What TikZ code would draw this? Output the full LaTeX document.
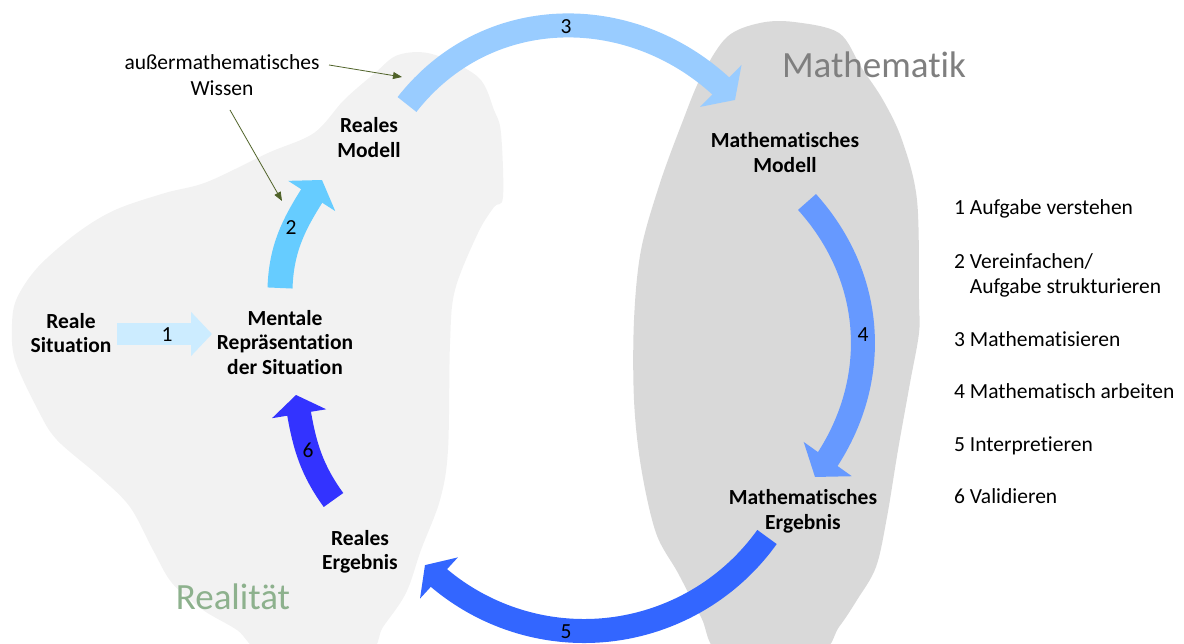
\documentclass[tikz,border=0pt]{standalone}
\usepackage{fontspec}
\setmainfont{Carlito}[Ligatures=NoCommon]
\usetikzlibrary{arrows.meta,bending}
\definecolor{rblob}{HTML}{F2F2F2}
\definecolor{mblob}{HTML}{D9D9D9}
\definecolor{cA}{HTML}{CCECFF}
\definecolor{cB}{HTML}{66CCFF}
\definecolor{cC}{HTML}{99CCFF}
\definecolor{cD}{HTML}{6699FF}
\definecolor{cE}{HTML}{3366FF}
\definecolor{cF}{HTML}{3333FF}
\definecolor{mtext}{HTML}{7F7F7F}
\definecolor{rtext}{HTML}{8DB18D}
\definecolor{anno}{HTML}{4F6228}
\tikzset{
  lbl/.style={font=\fontsize{21.5}{24.5}\selectfont\bfseries, align=center, inner sep=0pt},
  plain/.style={font=\fontsize{21.5}{24.5}\selectfont, inner sep=0pt},
  listitem/.style={font=\fontsize{21.5}{25}\selectfont, inner sep=0pt, anchor=base west, align=left},
  title/.style={font=\fontsize{37}{40}\selectfont, inner sep=0pt, anchor=base},
  num/.style={font=\fontsize{21.5}{24}\selectfont, inner sep=0pt},
  bigarrow/.style={line width=24pt, line cap=butt},
  annoarrow/.style={draw=anno, line width=0.8pt, -{Triangle[length=9pt,width=7pt]}}
}
\begin{document}
\begin{tikzpicture}[x=1pt,y=1pt]
\useasboundingbox (0,0) rectangle (1184,644);
\clip (0,0) rectangle (1184,644);

% Realitaet blob
\fill[rblob] plot[smooth cycle, tension=0.55] coordinates {
 (398,589) (432,590) (478,567) (494,534) (501,511) (503,447) (494,437) (478,411)
 (455,354) (450,300) (448,194) (440,144) (421,94) (406,51) (383,17) (364,-10)
 (268,-10) (237,14) (203,34) (172,61) (153,94) (130,137) (100,167) (57,204)
 (38,234) (15,284) (12,320) (17,346) (38,377) (77,411) (115,434) (165,451)
 (207,462) (268,491) (314,511) (344,544) (375,571)};

% Mathematik blob
\fill[mblob] plot[smooth cycle, tension=0.55] coordinates {
 (760,621) (794,622) (839,611) (861,577) (883,544) (902,504) (917,444) (919,344)
 (919,311) (910,261) (898,194) (887,127) (876,77) (857,44) (839,17) (816,-10)
 (723,-10) (701,27) (678,71) (656,111) (641,177) (634,244) (634,324) (641,394)
 (660,461) (682,521) (701,567) (727,607)};

% texts
\node[lbl] (rs) at (71,311) {Reale\\Situation};
\node[lbl] (mr) at (285,301.5) {Mentale\\Repräsentation\\der Situation};
\node[lbl] (rm) at (369,506.5) {Reales\\Modell};
\node[lbl] (mm) at (785,491.5) {Mathematisches\\Modell};
\node[lbl] (me) at (803,132.5) {Mathematisches\\Ergebnis};
\node[lbl] (re) at (360,92) {Reales\\Ergebnis};
\node[plain, align=center, font=\fontsize{21.5}{26}\selectfont] (wissen) at (222,569) {außermathematisches\\Wissen};
\node[title, text=mtext] (mathe) at (874,566) {Mathematik};
\node[title, text=rtext] (real) at (233,34) {Realität};

% list
\node[listitem] (l1) at (954,429) {1 Aufgabe verstehen};
\node[listitem] (l2) at (954,350) {2 Vereinfachen/\\\phantom{2 }Aufgabe strukturieren};
\node[listitem] (l3) at (954,297) {3 Mathematisieren};
\node[listitem] (l4) at (954,245) {4 Mathematisch arbeiten};
\node[listitem] (l5) at (954,192) {5 Interpretieren};
\node[listitem] (l6) at (954,140) {6 Validieren};

% arrow end points
\coordinate (a1s) at (117,310);
\coordinate (a1e) at (212,310);
\coordinate (a2s) at (280,356);
\coordinate (a2e) at (322,464);
\coordinate (a3s) at (407,539.5);
\coordinate (a3e) at (735,544);
\coordinate (a4s) at (807,442);
\coordinate (a4e) at (815,167);
\coordinate (a5s) at (767,107);
\coordinate (a6s) at (333.5,144);
\coordinate (a6e) at (296,249);

% big arrows
\draw[bigarrow, line width=22pt, cA, -{Triangle[width=43pt,length=21pt]}] (a1s) -- (a1e);
\draw[bigarrow, line width=25pt, cB, -{Triangle[width=55pt,length=19pt]}] (a2s) to[out=88,in=237] (a2e);
\draw[bigarrow, cC, -{Triangle[width=58pt,length=20pt]}] (a3s) to[out=52,in=133,looseness=1.05] (a3e);
\draw[bigarrow, cD, -{Triangle[width=58pt,length=22pt]}] (a4s) to[out=-48,in=52] (a4e);
\draw[bigarrow, cE, -{Triangle[width=55pt,length=19pt]}] (a5s) arc[start angle=-35.6, end angle=-135, radius=225];
\draw[bigarrow, cF, -{Triangle[width=54pt,length=19pt]}] (a6s) to[out=126,in=279] (a6e);

% numbers
\node[num] (n1) at (167,309) {1};
\node[num] (n2) at (291,416) {2};
\node[num] (n3) at (566,617) {3};
\node[num] (n4) at (863,309) {4};
\node[num] (n5) at (566,12) {5};
\node[num] (n6) at (308,194) {6};

% annotation arrows
\coordinate (w1) at (329,579);
\coordinate (w1e) at (402,567);
\coordinate (w2) at (230,534);
\coordinate (w2e) at (282,443);
\draw[annoarrow] (w1) -- (w1e);
\draw[annoarrow] (w2) -- (w2e);
\end{tikzpicture}
\end{document}
